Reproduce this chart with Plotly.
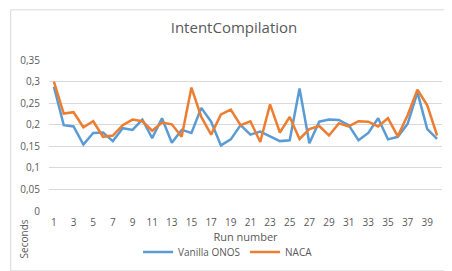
import plotly.graph_objects as go

runs = list(range(1, 41))
vanilla_onos = [0.288, 0.199, 0.196, 0.154, 0.181, 0.182, 0.162, 0.192, 0.188, 0.212,
                0.169, 0.215, 0.158, 0.188, 0.181, 0.239, 0.207, 0.152, 0.166, 0.199,
                0.177, 0.184, 0.173, 0.162, 0.164, 0.284, 0.157, 0.207, 0.212, 0.211,
                0.199, 0.164, 0.181, 0.215, 0.166, 0.172, 0.202, 0.275, 0.190, 0.167]
naca = [0.300, 0.226, 0.229, 0.194, 0.208, 0.172, 0.175, 0.199, 0.212, 0.208,
        0.186, 0.205, 0.201, 0.172, 0.286, 0.218, 0.177, 0.224, 0.235, 0.199,
        0.208, 0.160, 0.247, 0.182, 0.218, 0.167, 0.190, 0.197, 0.175, 0.203,
        0.196, 0.208, 0.207, 0.196, 0.215, 0.173, 0.222, 0.281, 0.245, 0.175]
x_ticks = list(range(1, 41, 2))
y_ticks = [0, 0.05, 0.1, 0.15, 0.2, 0.25, 0.3, 0.35]

FONT = "Open Sans"
GRAY = "#595959"

fig = go.Figure()
fig.add_trace(go.Scatter(x=runs, y=vanilla_onos, mode="lines", name="Vanilla ONOS",
                         line=dict(color="#5B9BD5", width=2.5)))
fig.add_trace(go.Scatter(x=runs, y=naca, mode="lines", name="NACA",
                         line=dict(color="#ED7D31", width=2.5)))

L, R, T, B = 39, 18, 52, 64
W, H = 452, 271
pw, ph = W - L - R, H - T - B

fig.update_layout(
    width=W, height=H,
    margin=dict(l=L, r=R, t=T, b=B, pad=0),
    paper_bgcolor="white", plot_bgcolor="white",
    separators=", ",
    font=dict(family=FONT, color=GRAY, size=10),
    title=dict(text="IntentCompilation", x=0.5, xref="container", xanchor="center",
               y=1 - 20 / H, yanchor="middle", font=dict(size=15, color=GRAY, family=FONT)),
    showlegend=True,
    legend=dict(orientation="h", x=(219 - L) / pw, xanchor="center",
                y=-(249 - (T + ph)) / ph, yanchor="middle",
                font=dict(size=10, color=GRAY, family=FONT),
                itemwidth=30, bgcolor="rgba(0,0,0,0)", tracegroupgap=0),
    xaxis=dict(range=[0.5, 40.5], tickvals=x_ticks, ticktext=[str(v) for v in x_ticks],
               showgrid=False, zeroline=False, showline=False, ticks="",
               tickfont=dict(size=10, color=GRAY), ticklabelstandoff=4,
               title=dict(text="Run number", font=dict(size=11, color=GRAY), standoff=1)),
    yaxis=dict(range=[0, 0.35], tickvals=y_ticks, ticktext=[("%g" % v).replace(".", ",") for v in y_ticks],
               showgrid=True, gridcolor="#D9D9D9", gridwidth=1, zeroline=False,
               showline=False, ticks="", tickfont=dict(size=10, color=GRAY),
               ticklabelstandoff=8),
)

fig.add_annotation(text="Seconds", textangle=-90, showarrow=False,
                   xref="paper", yref="paper",
                   x=(14 - L) / pw, y=(T + ph - 236) / ph,
                   xanchor="center", yanchor="middle",
                   font=dict(size=10, color=GRAY, family=FONT))

fig.add_shape(type="rect", xref="paper", yref="paper",
              x0=(0.5 - L) / pw, x1=(450.5 - L) / pw,
              y0=(T + ph - 268.5) / ph, y1=(T + ph - 0.5) / ph,
              line=dict(color="#D9D9D9", width=1), fillcolor="rgba(0,0,0,0)", layer="below")

fig.write_html("out.html")
